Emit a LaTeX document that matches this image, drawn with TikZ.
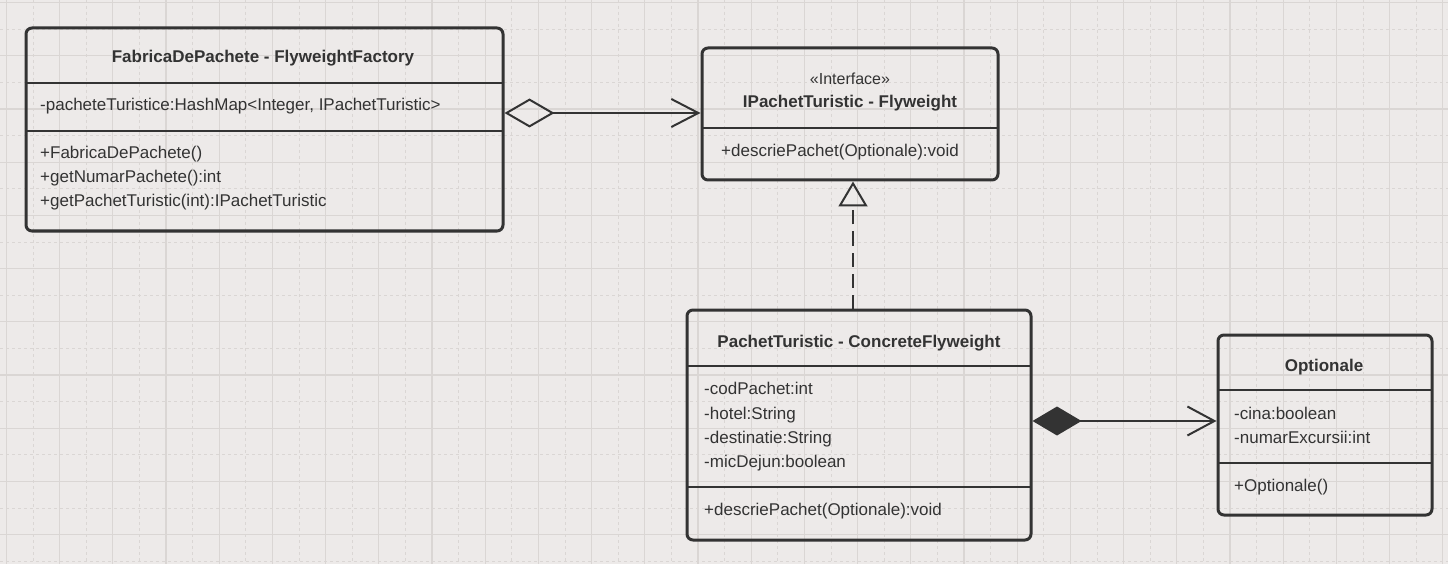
\documentclass[tikz,border=0pt]{standalone}
\usepackage{fontspec}
\setmainfont{Liberation Sans}
\usetikzlibrary{arrows.meta}
\definecolor{ink}{HTML}{333333}
\definecolor{paper}{HTML}{EDEAE9}
\definecolor{gridline}{HTML}{DAD6D4}
\begin{document}
\begin{tikzpicture}[x=1pt,y=-1pt,
    classbox/.style={draw=ink,line width=3pt,rounded corners=6pt,inner sep=0pt},
    sep/.style={draw=ink,line width=2pt},
    member/.style={anchor=base west,inner sep=0pt,text=ink,font=\fontsize{17}{20}\selectfont},
    title/.style={anchor=base,inner sep=0pt,text=ink,font=\fontsize{17}{20}\selectfont\bfseries},
    link/.style={draw=ink,line width=2pt}]
    \fill[paper] (0,0) rectangle (1448,564);
    \useasboundingbox (0,0) rectangle (1448,564);
    \foreach \gx in {33,86.2,...,1448} \draw[gridline,line width=1pt,dashed] (\gx,0)--(\gx,564);
    \foreach \gx in {6.4,59.6,...,1448} \draw[gridline,line width=1.2pt] (\gx,0)--(\gx,564);
    \foreach \gy in {29.2,82.4,...,564} \draw[gridline,line width=1pt,dashed] (0,\gy)--(1448,\gy);
    \foreach \gy in {2.6,55.8,...,564} \draw[gridline,line width=1.2pt] (0,\gy)--(1448,\gy);

    \node[classbox,minimum width=477pt,minimum height=203pt] (fab) at (264.5,129.5) {};
    \draw[sep] (26,83)--(503,83);
    \draw[sep] (26,131)--(503,131);
    \node[title] at (263,63) {FabricaDePachete - FlyweightFactory};
    \node[member] at (40,111) {-pacheteTuristice:HashMap<Integer, IPachetTuristic>};
    \node[member] at (40,159) {+FabricaDePachete()};
    \node[member] at (40,183) {+getNumarPachete():int};
    \node[member] at (40,207) {+getPachetTuristic(int):IPachetTuristic};

    \node[classbox,minimum width=296pt,minimum height=132pt] (iface) at (850,114) {};
    \draw[sep] (702,128)--(998,128);
    \node[member,anchor=base,font=\fontsize{16}{20}\selectfont] at (850,85) {«Interface»};
    \node[title] at (850,108) {IPachetTuristic - Flyweight};
    \node[member] at (721,157) {+descriePachet(Optionale):void};

    \node[classbox,minimum width=344pt,minimum height=230pt] (pachet) at (859,425) {};
    \draw[sep] (687,366)--(1031,366);
    \draw[sep] (687,487)--(1031,487);
    \node[title] at (859,347) {PachetTuristic - ConcreteFlyweight};
    \node[member] at (704,394) {-codPachet:int};
    \node[member] at (704,419) {-hotel:String};
    \node[member] at (704,443) {-destinatie:String};
    \node[member] at (704,467) {-micDejun:boolean};
    \node[member] at (704,515) {+descriePachet(Optionale):void};

    \node[classbox,minimum width=214pt,minimum height=180pt] (opt) at (1325,425) {};
    \draw[sep] (1218,390)--(1432,390);
    \draw[sep] (1218,463)--(1432,463);
    \node[title] at (1324,371) {Optionale};
    \node[member] at (1234,419) {-cina:boolean};
    \node[member] at (1234,443) {-numarExcursii:int};
    \node[member] at (1234,491) {+Optionale()};

    \coordinate (aggY) at (0,113);
    \coordinate (realX) at (853,0);
    \coordinate (compY) at (0,421);
    \draw[link,{Diamond[open,length=50pt,width=29pt]}-{Straight Barb[length=27pt,width=28pt]}]
        (fab.east |- aggY)--(iface.west |- aggY);
    \draw[link,dash pattern=on 14pt off 7pt,-{Triangle[open,length=25pt,width=29pt]}]
        (realX |- pachet.north)--(realX |- iface.south);
    \draw[link,{Diamond[length=49pt,width=29pt,fill=ink]}-{Straight Barb[length=27pt,width=29pt]}]
        (pachet.east |- compY)--(opt.west |- compY);
\end{tikzpicture}
\end{document}
